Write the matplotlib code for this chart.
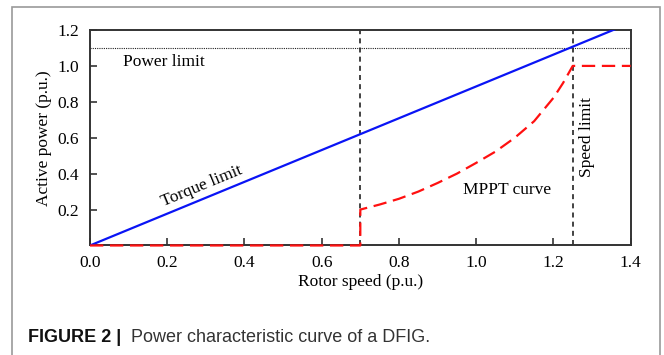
import matplotlib.pyplot as plt
from matplotlib.patches import Rectangle

# Torque limit line (rotor speed vs active power)
torque_x = [0.0, 1.4]
torque_y = [0.0, 1.24]

# MPPT / power characteristic (red dashed)
mppt_x = [0.0, 0.70, 0.70, 0.75, 0.80, 0.85, 0.90, 0.95, 1.00, 1.05, 1.10, 1.15, 1.20, 1.225, 1.25, 1.40]
mppt_y = [0.0, 0.00, 0.20, 0.228, 0.26, 0.30, 0.348, 0.40, 0.46, 0.523, 0.60, 0.692, 0.822, 0.905, 1.00, 1.00]

power_limit = 1.1
speed_bounds = [0.7, 1.25]

x_ticks = [0.0, 0.2, 0.4, 0.6, 0.8, 1.0, 1.2, 1.4]
y_ticks = [0.2, 0.4, 0.6, 0.8, 1.0, 1.2]

plt.rcParams['font.family'] = ['Liberation Serif', 'DejaVu Serif']

fig = plt.figure(figsize=(6.64, 3.55), dpi=100)
ax = fig.add_axes([0.1355, 0.3085, 0.9498 - 0.1355, 0.9155 - 0.3085])

ax.plot(torque_x, torque_y, color='#0a14f5', lw=1.6, zorder=3, clip_on=True)
ax.plot(mppt_x, mppt_y, color='#ff1010', lw=1.6, dashes=(6, 3), zorder=4, clip_on=False)
ax.axhline(power_limit, color='#222222', lw=0.8, ls=(0, (1, 1)), zorder=2)
for xb in speed_bounds:
    ax.axvline(xb, color='#222222', lw=1.2, ls=(0, (3, 2.5)), zorder=2)

ax.text(0.192, 1.02, 'Power limit', fontsize=12.5, ha='center', va='center')
ax.text(0.29, 0.333, 'Torque limit', fontsize=12.5, ha='center', va='center',
        rotation=22.4, rotation_mode='anchor')
ax.text(1.079, 0.309, 'MPPT curve', fontsize=12.5, ha='center', va='center')
ax.text(1.286, 0.604, 'Speed limit', fontsize=12.5, ha='center', va='center', rotation=90)

ax.set_xlim(0, 1.4)
ax.set_ylim(0, 1.2)
ax.set_xticks(x_ticks)
ax.set_xticklabels([f'{v:.1f}' for v in x_ticks])
ax.set_yticks(y_ticks)
ax.set_yticklabels([f'{v:.1f}' for v in y_ticks])
ax.tick_params(direction='in', length=5, width=1.2, color='#333333', labelsize=12.5, pad=8)
ax.tick_params(axis='x', pad=7)
for s in ax.spines.values():
    s.set_color('#333333')
    s.set_linewidth(1.4)

ax.set_xlabel('Rotor speed (p.u.)', fontsize=12.5, labelpad=2)
ax.set_ylabel('Active power (p.u.)', fontsize=12.5, labelpad=4)

# outer frame of the figure panel
fig.add_artist(Rectangle((12 / 664, -0.05), (660 - 12) / 664, 1.05 - 7 / 355,
                         transform=fig.transFigure, fill=False,
                         edgecolor='#9a9a9a', lw=1.2))

fig.text(28 / 664, 1 - 337 / 355, 'FIGURE 2 |', fontsize=13, fontweight='bold',
         family=['Liberation Sans', 'DejaVu Sans'], va='center', color='#111111')
fig.text(131 / 664, 1 - 337 / 355, 'Power characteristic curve of a DFIG.', fontsize=13,
         family=['Liberation Sans', 'DejaVu Sans'], va='center', color='#333333')

fig.savefig('out.png', dpi=100)
